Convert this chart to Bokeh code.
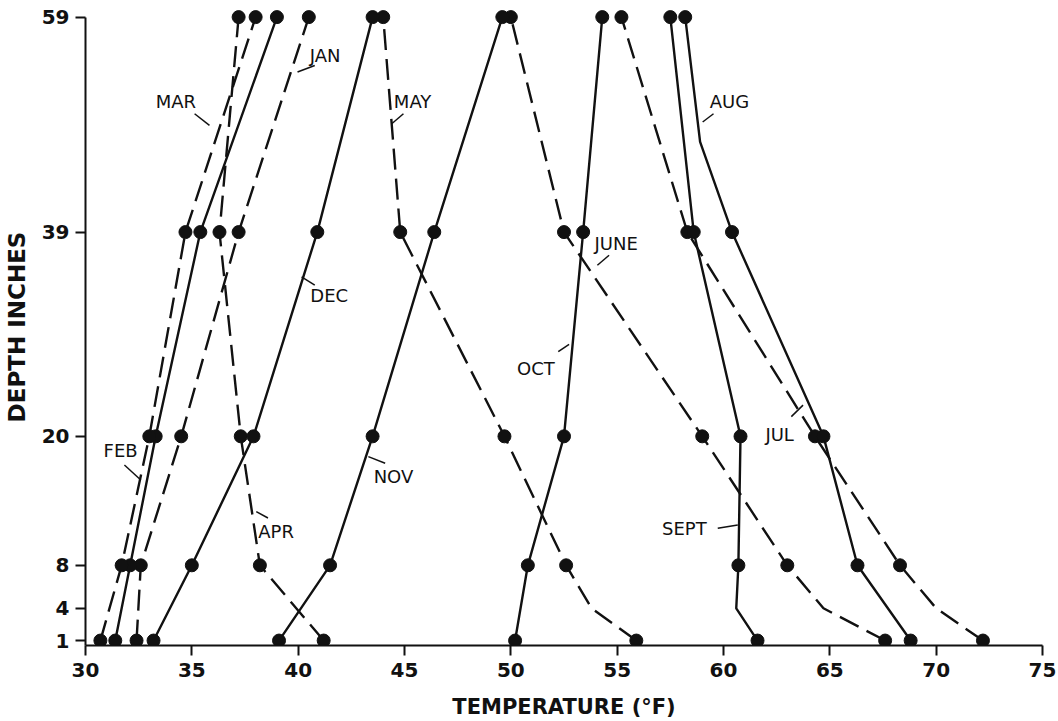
from bokeh.plotting import figure
from bokeh.models import ColumnDataSource, FixedTicker, Range1d
from bokeh.core.properties import value
from bokeh.embed import file_html
from bokeh.resources import INLINE

# ---- data (temperature in deg F at each depth, inches) ----
depth_levels = [1, 8, 20, 39, 59]

jan_temp = [32.4, 32.6, 34.5, 37.2, 40.5]
feb_temp = [31.4, 32.1, 33.3, 35.4, 39.0]
mar_temp = [30.7, 31.7, 33.0, 34.7, 38.0]
apr_temp = [41.2, 38.2, 37.3, 36.3, 37.2]
may_temp = [55.9, 52.6, 49.7, 44.8, 44.0]
jun_temp = [67.6, 63.0, 59.0, 52.5, 50.0]
jul_temp = [72.2, 68.3, 64.3, 58.3, 55.2]
aug_temp = [68.8, 66.3, 64.7, 60.4, 58.2]
sep_temp = [61.6, 60.7, 60.8, 58.6, 57.5]
oct_temp = [50.2, 50.8, 52.5, 53.4, 54.3]
nov_temp = [39.1, 41.5, 43.5, 46.4, 49.6]
dec_temp = [33.2, 35.0, 37.9, 40.9, 43.5]

# unmarked bends of the hand-drawn curves (depth, temperature)
may_bend_depth = [4];    may_bend_temp = [53.8]
jun_bend_depth = [4];    jun_bend_temp = [64.7]
jul_bend_depth = [4];    jul_bend_temp = [70.0]
sep_bend_depth = [4];    sep_bend_temp = [60.6]
aug_bend_depth = [47.4]; aug_bend_temp = [58.9]

x_ticks = [30, 35, 40, 45, 50, 55, 60, 65, 70, 75]
y_ticks = [1, 4, 8, 20, 39, 59]

series = [
    ("JAN", jan_temp, [], []),
    ("FEB", feb_temp, [], []),
    ("MAR", mar_temp, [], []),
    ("APR", apr_temp, [], []),
    ("MAY", may_temp, may_bend_depth, may_bend_temp),
    ("JUNE", jun_temp, jun_bend_depth, jun_bend_temp),
    ("JUL", jul_temp, jul_bend_depth, jul_bend_temp),
    ("AUG", aug_temp, aug_bend_depth, aug_bend_temp),
    ("SEPT", sep_temp, sep_bend_depth, sep_bend_temp),
    ("OCT", oct_temp, [], []),
    ("NOV", nov_temp, [], []),
    ("DEC", dec_temp, [], []),
]
dashed_months = {"JAN", "MAR", "APR", "MAY", "JUNE", "JUL"}

# ---- label annotations (placement) ----
label_text = ["JAN", "MAR", "MAY", "AUG", "JUNE", "DEC", "OCT", "JUL", "FEB", "NOV", "APR", "SEPT"]
label_x = [41.27, 34.25, 45.38, 60.28, 54.95, 41.46, 51.18, 62.64, 31.65, 44.48, 38.96, 58.16]
label_y = [55.4, 51.13, 51.13, 51.13, 37.93, 33.1, 26.31, 20.18, 18.69, 16.28, 11.17, 11.44]
lead_x0 = [39.97, 35.13, 44.40, 59.02, 54.07, 40.16, 52.23, 63.19, 31.83, 43.30, 38.03, 59.73]
lead_y0 = [53.89, 50.01, 49.08, 49.24, 35.91, 34.84, 27.87, 21.83, 17.33, 18.11, 13.00, 11.44]
lead_x1 = [40.78, 35.83, 44.95, 59.53, 54.62, 40.78, 52.74, 63.74, 32.60, 44.09, 38.58, 60.67]
lead_y1 = [54.50, 48.93, 50.01, 50.01, 36.84, 34.06, 28.55, 22.90, 15.93, 17.49, 12.40, 11.75]

INK = "#111111"
FONT = "DejaVu Sans"

p = figure(width=1056, height=727, output_backend="svg", toolbar_location=None,
           x_range=Range1d(30, 75), y_range=Range1d(0.54, 59.8),
           min_border_left=82, min_border_right=14, min_border_top=8, min_border_bottom=82)
p.outline_line_color = None
p.xgrid.visible = False
p.ygrid.visible = False
p.background_fill_color = "white"
p.border_fill_color = "white"

for name, temps, bd, bt in series:
    pts = sorted(list(zip(depth_levels, temps)) + list(zip(bd, bt)))
    ys = [d for d, t in pts]
    xs = [t for d, t in pts]
    dash = "21 9" if name in dashed_months else "solid"
    p.line(xs, ys, line_color=INK, line_width=2.4, line_dash=dash)

for name, temps, bd, bt in series:
    p.scatter(temps, depth_levels, marker="circle", size=13,
              fill_color=INK, line_color=INK)

lsrc = ColumnDataSource(dict(x=label_x, y=label_y, t=label_text,
                             x0=lead_x0, y0=lead_y0, x1=lead_x1, y1=lead_y1))
p.segment(x0="x0", y0="y0", x1="x1", y1="y1", source=lsrc, line_color=INK, line_width=1.5)
p.text(x="x", y="y", text="t", source=lsrc, text_align="center", text_baseline="middle",
       text_font=value(FONT), text_font_size="18px", text_color=INK)

for ax in (p.xaxis[0], p.yaxis[0]):
    ax.axis_line_color = INK
    ax.axis_line_width = 2
    ax.major_tick_line_color = INK
    ax.major_tick_line_width = 2
    ax.major_tick_out = 10
    ax.major_tick_in = 0
    ax.minor_tick_line_color = None
    ax.major_label_text_font = FONT
    ax.major_label_text_font_size = "20px"
    ax.major_label_text_font_style = "bold"
    ax.major_label_text_color = INK
    ax.axis_label_text_font = FONT
    ax.axis_label_text_font_style = "bold"
    ax.axis_label_text_color = INK

p.xaxis.ticker = FixedTicker(ticks=x_ticks)
p.yaxis.ticker = FixedTicker(ticks=y_ticks)
p.xaxis.bounds = (30, 75)
p.yaxis.bounds = (0.54, 59)
p.xaxis.axis_label = "TEMPERATURE (°F)"
p.yaxis.axis_label = "DEPTH INCHES"
p.xaxis.axis_label_text_font_size = "21px"
p.yaxis.axis_label_text_font_size = "23px"
p.xaxis.major_label_standoff = 7
p.yaxis.major_label_standoff = 6
p.xaxis.axis_label_standoff = 15
p.yaxis.axis_label_standoff = 9

open("out.html", "w").write(file_html(p, INLINE))
